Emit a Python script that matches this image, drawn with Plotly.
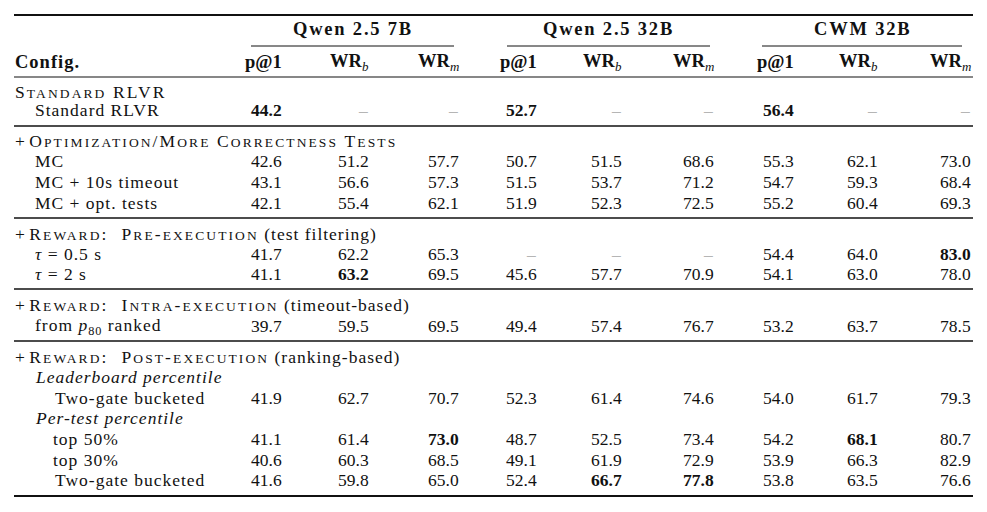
import plotly.graph_objects as go

# ---------------- data ----------------
models = ["Qwen 2.5 7B", "Qwen 2.5 32B", "CWM 32B"]
metrics = ["p@1", "WR_b", "WR_m"]

row_labels = [
    "Standard RLVR",
    "MC", "MC + 10s timeout", "MC + opt. tests",
    "τ = 0.5 s", "τ = 2 s",
    "from p80 ranked",
    "Two-gate bucketed",
    "top 50%", "top 30%", "Two-gate bucketed",
]

# columns: Qwen7B (p@1, WRb, WRm), Qwen32B (p@1, WRb, WRm), CWM32B (p@1, WRb, WRm)
qwen7b_p1  = [44.2, 42.6, 43.1, 42.1, 41.7, 41.1, 39.7, 41.9, 41.1, 40.6, 41.6]
qwen7b_wrb = [None, 51.2, 56.6, 55.4, 62.2, 63.2, 59.5, 62.7, 61.4, 60.3, 59.8]
qwen7b_wrm = [None, 57.7, 57.3, 62.1, 65.3, 69.5, 69.5, 70.7, 73.0, 68.5, 65.0]
qwen32b_p1  = [52.7, 50.7, 51.5, 51.9, None, 45.6, 49.4, 52.3, 48.7, 49.1, 52.4]
qwen32b_wrb = [None, 51.5, 53.7, 52.3, None, 57.7, 57.4, 61.4, 52.5, 61.9, 66.7]
qwen32b_wrm = [None, 68.6, 71.2, 72.5, None, 70.9, 76.7, 74.6, 73.4, 72.9, 77.8]
cwm32b_p1  = [56.4, 55.3, 54.7, 55.2, 54.4, 54.1, 53.2, 54.0, 54.2, 53.9, 53.8]
cwm32b_wrb = [None, 62.1, 59.3, 60.4, 64.0, 63.0, 63.7, 61.7, 68.1, 66.3, 63.5]
cwm32b_wrm = [None, 73.0, 68.4, 69.3, 83.0, 78.0, 78.5, 79.3, 80.7, 82.9, 76.6]

columns = [qwen7b_p1, qwen7b_wrb, qwen7b_wrm,
           qwen32b_p1, qwen32b_wrb, qwen32b_wrm,
           cwm32b_p1, cwm32b_wrb, cwm32b_wrm]

section_labels = [
    "Standard RLVR",
    "Optimization/More Correctness Tests",
    "Reward: Pre-execution",
    "Reward: Intra-execution",
    "Reward: Post-execution",
]
section_suffix = ["", "", " (test filtering)", " (timeout-based)", " (ranking-based)"]
section_plus = [False, True, True, True, True]

subgroup_labels = ["Leaderboard percentile", "Per-test percentile"]

# ---------------- layout (positions / styles) ----------------
W, H = 987, 512
PAGE_OFF = 8          # default page body margin of the html page
FONT = "Liberation Serif, Times New Roman, serif"
FS = 17.5
HEAD_FS = 18.5
SC_FS = 13.5
INK = "#111111"
DASH_COLOR = "#b5b5b5"
LS_LABEL = "letter-spacing:1px"
LS_SC = "letter-spacing:2.1px"
LS_HEAD = "letter-spacing:1px"
LS_GROUP = "letter-spacing:1.8px"

col_right = [283, 370, 460, 538, 623, 715, 795, 879, 972]
group_spans = [(251, 454), (507, 710), (762, 962)]
x_left = 14
row_indent = [34, 34, 34, 34, 34, 34, 34, 54, 52, 52, 54]

y_top_rule = 15
y_group = 29
y_cmid = 46
y_head = 62
y_head_rule = 77
y_bottom_rule = 496

section_y = [92, 141, 234, 305, 357]
rule_y = [126, 218, 289, 341]
row_y = [110, 161, 182, 203, 254, 274, 326, 398, 439, 460, 480]
subgroup_y = [377, 418]


def small_caps(text):
    out = []
    for ch in text:
        if ch.isalpha() and ch.islower():
            out.append(("s", ch.upper()))
        else:
            out.append(("n", ch.replace(" ", "\u00a0")))
    html = ""
    cur, buf = None, ""

    def flush(kind, b):
        if kind == "s":
            return f"<span style='font-size:{SC_FS}px;{LS_SC}'>{b}</span>"
        return f"<span style='{LS_SC}'>{b}</span>"

    for kind, ch in out:
        if kind != cur and buf:
            html += flush(cur, buf)
            buf = ""
        cur = kind
        buf += ch
    if buf:
        html += flush(cur, buf)
    return html


def label_html(s):
    s = s.replace("τ", "<i>τ</i>")
    s = s.replace("p80", "<i>p</i><sub>80</sub>")
    return f"<span style='{LS_LABEL}'>{s}</span>"


annotations = []
shapes = []


def add_text(x, y, text, anchor="left", color=INK, size=FS):
    annotations.append(dict(
        x=x, y=y, xref="x", yref="y", text=text, showarrow=False,
        xanchor=anchor, yanchor="middle", align=anchor, borderpad=0,
        font=dict(family=FONT, size=size, color=color),
    ))


def add_rule(x0, x1, y, width):
    shapes.append(dict(type="line", xref="x", yref="y", x0=x0, x1=x1, y0=y, y1=y,
                       line=dict(color=INK, width=width)))


# rules
add_rule(x_left, 973, y_top_rule, 2)
for (a, b) in group_spans:
    add_rule(a, b, y_cmid, 1)
add_rule(x_left, 973, y_head_rule, 1.1)
for ry in rule_y:
    add_rule(x_left, 973, ry, 1.4)
add_rule(x_left, 973, y_bottom_rule, 2)

# header
for m, (a, b) in zip(models, group_spans):
    add_text((a + b) / 2, y_group, f"<span style='{LS_GROUP}'><b>{m}</b></span>",
             anchor="center", size=HEAD_FS)
add_text(x_left, y_head, f"<span style='{LS_HEAD}'><b>Config.</b></span>", size=HEAD_FS)
header_html = {"p@1": "<b>p@1</b>",
               "WR_b": "<b>WR</b><sub><i>b</i></sub>",
               "WR_m": "<b>WR</b><sub><i>m</i></sub>"}
for j, xr in enumerate(col_right):
    add_text(xr, y_head, header_html[metrics[j % 3]], anchor="right", size=HEAD_FS)

# sections
for lab, suf, plus, y in zip(section_labels, section_suffix, section_plus, section_y):
    txt = ("+\u00a0" if plus else "") + small_caps(lab.replace(": ", ":  ")) \
          + (f"<span style='{LS_LABEL}'>{suf}</span>" if suf else "")
    add_text(x_left, y, txt)

# sub-group italic labels
for lab, y in zip(subgroup_labels, subgroup_y):
    add_text(34, y, f"<span style='{LS_LABEL}'><i>{lab}</i></span>")

# data rows
col_best = [max(v for v in col if v is not None) for col in columns]
for i, (lab, y) in enumerate(zip(row_labels, row_y)):
    add_text(row_indent[i], y, label_html(lab))
    for j, col in enumerate(columns):
        v = col[i]
        if v is None:
            add_text(col_right[j] - 1, y, "–", anchor="right", color=DASH_COLOR)
        else:
            s = f"{v:.1f}"
            if v == col_best[j]:
                s = f"<b>{s}</b>"
            add_text(col_right[j], y, s, anchor="right")

fig = go.Figure()
fig.update_layout(
    width=W, height=H,
    margin=dict(l=0, r=0, t=0, b=0),
    paper_bgcolor="white", plot_bgcolor="white",
    xaxis=dict(range=[PAGE_OFF, W + PAGE_OFF], visible=False, fixedrange=True),
    yaxis=dict(range=[H + PAGE_OFF, PAGE_OFF], visible=False, fixedrange=True),
    annotations=annotations, shapes=shapes,
    showlegend=False,
)

fig.write_html("out.html")
